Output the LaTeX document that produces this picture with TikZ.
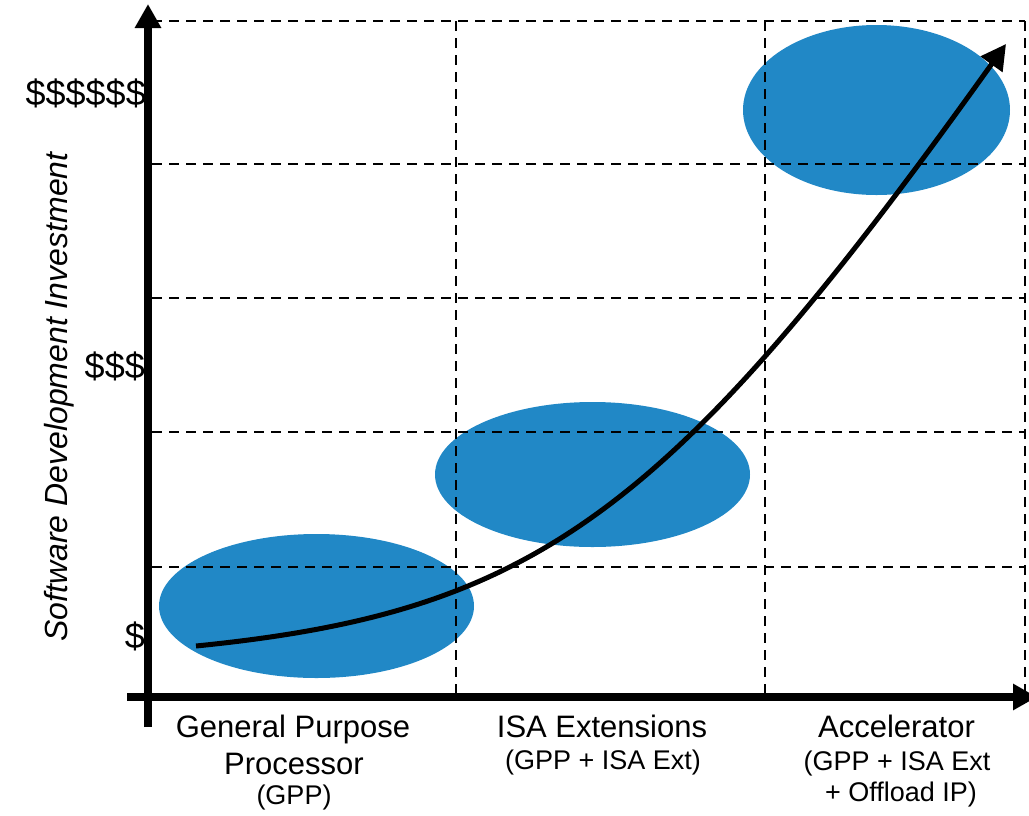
\documentclass[tikz,border=0pt]{standalone}
\usepackage{fontspec}
\setmainfont{Liberation Sans}
\usetikzlibrary{arrows.meta,shapes.geometric}
\definecolor{blob}{RGB}{33,136,198}
\begin{document}
\begin{tikzpicture}[x=1pt,y=-1pt,
  blobstyle/.style={ellipse, fill=blob, draw=none, inner sep=0pt},
  gridline/.style={line width=2.6pt, dash pattern=on 10pt off 7pt, black},
  axisline/.style={line width=8pt, -{Triangle[length=24pt,width=25pt]}},
  trend/.style={line width=5pt, -{Triangle[length=25pt,width=26pt]}},
  biglab/.style={font=\fontsize{31}{36}\selectfont, inner sep=0pt, anchor=base},
  smalllab/.style={font=\fontsize{27}{31}\selectfont, inner sep=0pt, anchor=base},
  dollar/.style={font=\fontsize{36}{40}\selectfont, inner sep=0pt, anchor=base east},
]
\useasboundingbox (0,0) rectangle (1029,815);

% blobs
\node[blobstyle, minimum width=315pt, minimum height=144pt] (gpp) at (316.5,606) {};
\node[blobstyle, minimum width=315pt, minimum height=145pt] (isa) at (592.5,474.5) {};
\node[blobstyle, minimum width=267pt, minimum height=170pt] (acc) at (876.5,110) {};

% grid
\foreach \yy in {21,164,298,432,567}
  \draw[gridline] (152,\yy) -- (1025,\yy);
\foreach \xx in {456,765,1025}
  \draw[gridline] (\xx,21) -- (\xx,693);

% axes
\coordinate (ybot) at (148,727);
\coordinate (ytop) at (148,4);
\coordinate (xleft) at (127,697);
\coordinate (xright) at (1037,697);
\draw[axisline] (ybot) -- (ytop);
\draw[axisline] (xleft) -- (xright);

% trend curve
\coordinate (cs) at (196,646);
\coordinate (ce) at (1006,44);
\draw[trend] (cs) .. controls (534,612) and (668,517) .. (ce);

% y labels
\node[dollar] (d6) at (146,105) {\$\$\$\$\$\$};
\node[dollar] (d3) at (145,378) {\$\$\$};
\node[dollar] (d1) at (145,648) {\$};
\node[rotate=90, anchor=base, inner sep=0pt, font=\itshape\fontsize{32}{36}\selectfont] (ylab) at (67,397) {Software Development Investment};

% x labels
\node[biglab] (g1) at (293,737) {General Purpose};
\node[biglab] (g2) at (294,774) {Processor};
\node[smalllab] (g3) at (294,804) {(GPP)};
\node[biglab] (i1) at (602,737) {ISA Extensions};
\node[smalllab] (i2) at (603,769) {(GPP + ISA Ext)};
\node[biglab] (a1) at (896.5,737) {Accelerator};
\node[smalllab] (a2) at (897,770) {(GPP + ISA Ext};
\node[smalllab] (a3) at (901,801) {+ Offload IP)};
\end{tikzpicture}
\end{document}
